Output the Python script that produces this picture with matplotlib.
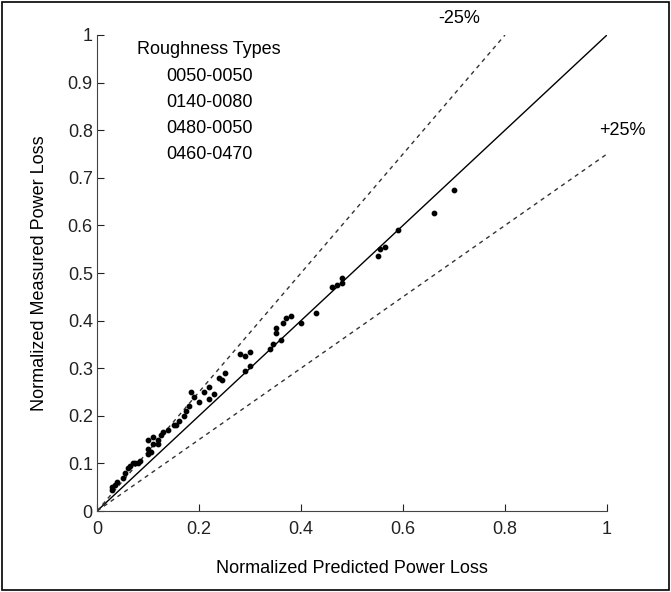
import numpy as np
import matplotlib.pyplot as plt
from matplotlib.patches import Rectangle

plt.rcParams['font.family'] = ['Liberation Sans', 'DejaVu Sans']

# predicted vs measured (normalized) power loss
predicted = [0.03, 0.035, 0.04, 0.03, 0.05, 0.055, 0.06, 0.065, 0.07, 0.075, 0.08, 0.085,
             0.10, 0.10, 0.105, 0.10, 0.11, 0.11, 0.12, 0.125, 0.13, 0.12,
             0.14, 0.15, 0.155, 0.16, 0.17, 0.175, 0.18, 0.185, 0.19, 0.20, 0.21, 0.22,
             0.22, 0.23, 0.24, 0.245, 0.25,
             0.28, 0.29, 0.30, 0.30, 0.29,
             0.34, 0.345, 0.35, 0.35, 0.36, 0.365, 0.37, 0.38, 0.40, 0.43,
             0.46, 0.47, 0.48, 0.48, 0.55, 0.555, 0.565, 0.59, 0.66, 0.70]
measured = [0.05, 0.055, 0.06, 0.045, 0.07, 0.08, 0.09, 0.095, 0.10, 0.10, 0.10, 0.105,
            0.12, 0.13, 0.125, 0.15, 0.14, 0.155, 0.15, 0.16, 0.165, 0.14,
            0.17, 0.18, 0.18, 0.19, 0.20, 0.21, 0.22, 0.25, 0.24, 0.23, 0.25, 0.235,
            0.26, 0.245, 0.28, 0.275, 0.29,
            0.33, 0.325, 0.335, 0.305, 0.295,
            0.34, 0.35, 0.375, 0.385, 0.36, 0.395, 0.405, 0.41, 0.395, 0.415,
            0.47, 0.475, 0.48, 0.49, 0.535, 0.55, 0.555, 0.59, 0.625, 0.675]

roughness_types = ["0050-0050", "0140-0080", "0480-0050", "0460-0470"]

fig = plt.figure(figsize=(6.71, 5.92), dpi=100)
ax = fig.add_axes([0.1446, 0.1368, 0.76, 0.8041])

# reference lines: exact, -25% and +25%
ax.plot([0, 1], [0, 1], color='black', lw=1.0)
ax.plot([0, 0.8], [0, 1], color='#333333', lw=1.0, ls=(0, (3, 3)))
ax.plot([0, 1], [0, 0.75], color='#333333', lw=1.0, ls=(0, (3, 3)))

ax.scatter(predicted, measured, s=10, color='black', zorder=3)

ax.text(0.67, 1.034, "-25%", fontsize=13, va='center', ha='left')
ax.text(0.985, 0.80, "+25%", fontsize=13, va='center', ha='left')

ax.text(0.22, 0.969, "Roughness Types", fontsize=13, ha='center', va='center')
for i, name in enumerate(roughness_types):
    ax.text(0.22, 0.912 - i * 0.0545, name, fontsize=13, ha='center', va='center')

ax.set_xlim(0, 1)
ax.set_ylim(0, 1)
ax.set_xticks(np.arange(0, 1.01, 0.2))
ax.set_yticks(np.arange(0, 1.01, 0.1))
ax.set_xticklabels(["0", "0.2", "0.4", "0.6", "0.8", "1"])
ax.set_yticklabels(["0", "0.1", "0.2", "0.3", "0.4", "0.5", "0.6", "0.7", "0.8", "0.9", "1"])
ax.tick_params(direction='in', length=5, labelsize=13, colors='#222222')
ax.tick_params(axis='x', pad=7)
ax.tick_params(axis='y', pad=3)
for side in ['top', 'right']:
    ax.spines[side].set_visible(False)
for side in ['left', 'bottom']:
    ax.spines[side].set_color('#444444')

ax.set_xlabel("Normalized Predicted Power Loss", fontsize=13, labelpad=16)
ax.set_ylabel("Normalized Measured Power Loss", fontsize=13, labelpad=14)

fig.patches.append(Rectangle((0.003, 0.003), 0.994, 0.994, transform=fig.transFigure,
                             fill=False, edgecolor='black', lw=1.2))

fig.savefig("out.png", dpi=100)
